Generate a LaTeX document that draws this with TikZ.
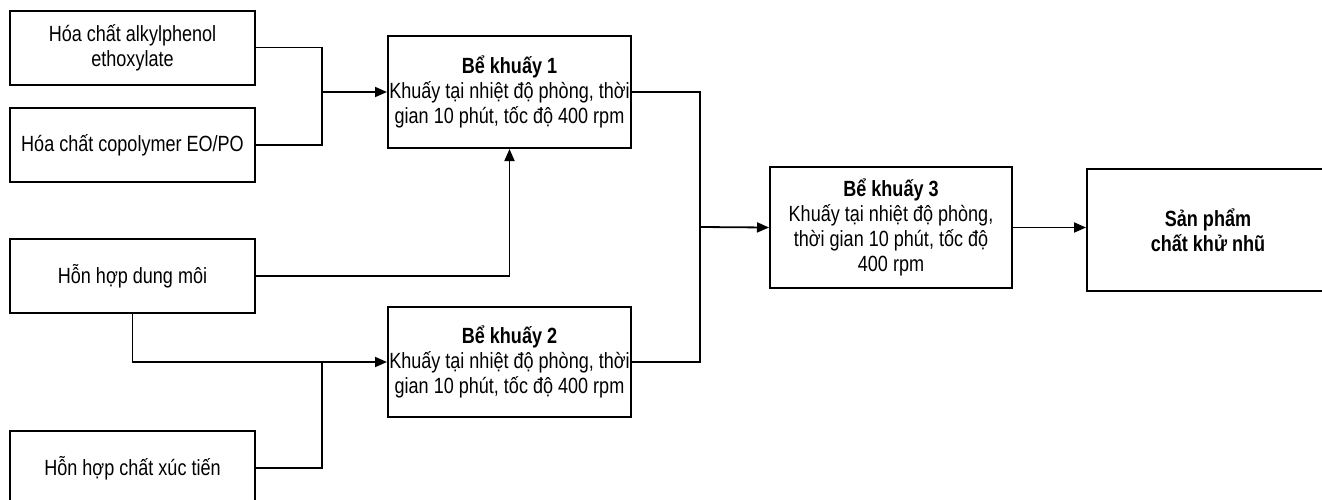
\documentclass[tikz,border=0pt]{standalone}
\usepackage{fontspec}
\setmainfont{Liberation Sans}[FakeStretch=0.82]
\usetikzlibrary{arrows.meta,positioning,calc}
\tikzset{
  box/.style={draw, line width=2pt, minimum width=245pt, minimum height=74pt,
    align=center, inner sep=0pt, font=\fontsize{22}{25}\selectfont},
  tank/.style={box, minimum width=243pt},
  conn/.style={line width=1.8pt},
  arr/.style={conn, -{Triangle[length=12pt,width=10pt]}}
}
\begin{document}
\begin{tikzpicture}[x=1pt,y=-1pt]
\useasboundingbox (0,0) rectangle (1322,499);
\clip (0,0) rectangle (1322,499);
\fill[white] (0,0) rectangle (1322,499);
\node[box] (A) at (132.5,47.5) {Hóa chất alkylphenol\\ethoxylate};
\node[box] (B) at (132.5,145) {Hóa chất copolymer EO/PO};
\node[box] (D) at (132.5,276) {Hỗn hợp dung môi};
\node[box] (X) at (132.5,468) {Hỗn hợp chất xúc tiến};
\node[tank, minimum height=112pt] (T1) at (509.5,92) {\textbf{Bể khuấy 1}\\Khuấy tại nhiệt độ phòng, thời\\gian 10 phút, tốc độ 400 rpm};
\node[tank, minimum height=110pt] (T2) at (509.5,362) {\textbf{Bể khuấy 2}\\Khuấy tại nhiệt độ phòng, thời\\gian 10 phút, tốc độ 400 rpm};
\node[tank, minimum width=242pt, minimum height=121pt] (T3) at (891,227.5) {\textbf{Bể khuấy 3}\\Khuấy tại nhiệt độ phòng,\\thời gian 10 phút, tốc độ\\400 rpm};
\node[tank, minimum width=242pt, minimum height=122pt] (P) at (1208,230) {\textbf{Sản phẩm}\\\textbf{chất khử nhũ}};
\coordinate (m1) at (322,92);
\coordinate (m2) at (322,362);
\coordinate (m3) at (700,227);
\draw[conn] (A.east) -| (m1);
\draw[conn] (B.east) -| (m1);
\draw[arr] (m1) -- (T1.west);
\draw[arr] (D.east) -| (T1.south);
\draw[arr] (D.south) |- (T2.west);
\draw[conn] (X.east) -| (m2);
\draw[conn] (T1.east) -| (m3);
\draw[conn] (T2.east) -| (m3);
\draw[arr] (m3) -- (T3.west);
\draw[arr] (T3.east) -- (T3.east -| P.west);
\end{tikzpicture}
\end{document}
